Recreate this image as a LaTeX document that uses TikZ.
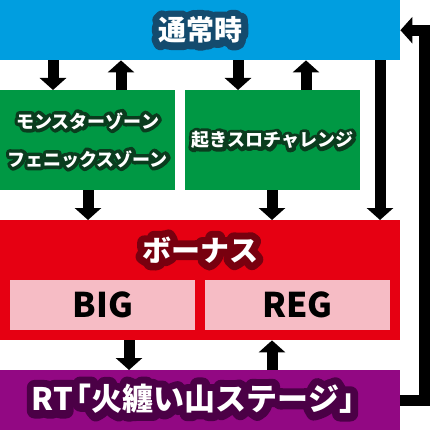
\documentclass[tikz,border=0pt]{standalone}
\usepackage{fontspec}
\usetikzlibrary{arrows.meta}
\newfontfamily\jp{Noto Sans CJK JP}[BoldFont={Noto Sans CJK JP Black}]
\definecolor{tblue}{RGB}{0,158,224}
\definecolor{tgreen}{RGB}{0,152,68}
\definecolor{tred}{RGB}{230,0,18}
\definecolor{tpink}{RGB}{246,188,197}
\definecolor{tpurple}{RGB}{146,8,131}
\definecolor{lblue}{RGB}{20,75,110}
\definecolor{lgreen}{RGB}{10,60,30}
\definecolor{lred}{RGB}{120,0,15}
\definecolor{lpurple}{RGB}{75,0,70}
% white text with a dark rim
\newcommand{\rim}[3][40]{\leavevmode\rlap{\color{#2}\addfontfeature{FakeBold=#1}#3}#3}

\begin{document}
\begin{tikzpicture}[x=1pt,y=-1pt,
  box/.style={rectangle,inner sep=0pt,anchor=north west},
  lbl/.style={text=white,line join=round},
  arr/.style={line width=11pt,-{Triangle[width=26pt,length=12pt]}}]
   \useasboundingbox (0,0) rectangle (430,430);
   % boxes
   \node[box,lbl,fill=tblue,minimum width=400pt,minimum height=60pt,
     font=\jp\bfseries\fontsize{28}{30}\selectfont] (normal) at (0,0) {\rim[50]{lblue}{通常時}};
   \node[box,lbl,fill=tgreen,minimum width=175pt,minimum height=100pt,align=center,
     font=\jp\bfseries\fontsize{18}{38}\selectfont] (monster) at (0,90)
     {\rim{lgreen}{モンスターゾーン}\\\rim{lgreen}{フェニックスゾーン}};
   \node[box,lbl,fill=tgreen,minimum width=175pt,minimum height=100pt,
     font=\jp\bfseries\fontsize{18}{20}\selectfont] (okiro) at (185,90) {\rim{lgreen}{起きスロチャレンジ}};
   \node[box,fill=tred,minimum width=400pt,minimum height=120pt] (bonus) at (0,220) {};
   \node[box,fill=tpink,minimum width=185pt,minimum height=50pt,
     font=\jp\bfseries\fontsize{34}{36}\selectfont] (big) at (10,280) {BIG};
   \node[box,fill=tpink,minimum width=185pt,minimum height=50pt,
     font=\jp\bfseries\fontsize{34}{36}\selectfont] (reg) at (205,280) {REG};
   \node[lbl,font=\jp\bfseries\fontsize{29}{30}\selectfont] (bonuslbl) at (200,250) {\rim[50]{lred}{ボーナス}};
   \node[box,fill=tpurple,minimum width=400pt,minimum height=60pt] (rt) at (0,370) {};
   \node[lbl,font=\jp\bfseries\fontsize{31}{32}\selectfont] (rtlbl) at (201,399)
     {\rim[50]{lpurple}{RT\kern-.4em「火纏い山ステージ」}};
   % arrows
   \draw[arr] ( 53,0 |- normal.south) -- ( 53,0 |- monster.north);
   \draw[arr] (121,0 |- monster.north) -- (121,0 |- normal.south);
   \draw[arr] (238,0 |- normal.south) -- (238,0 |- okiro.north);
   \draw[arr] (306,0 |- okiro.north) -- (306,0 |- normal.south);
   \draw[arr] (380,0 |- normal.south) -- (380,0 |- bonus.north);
   \draw[arr] ( 88,0 |- monster.south) -- ( 88,0 |- bonus.north);
   \draw[arr] (272,0 |- okiro.south) -- (272,0 |- bonus.north);
   \draw[arr] (129,0 |- bonus.south) -- (129,0 |- rt.north);
   \draw[arr] (272,0 |- rt.north) -- (272,0 |- bonus.south);
   \draw[arr] (rt.east) -- ++(24,0) |- (normal.east);
\end{tikzpicture}
\end{document}
